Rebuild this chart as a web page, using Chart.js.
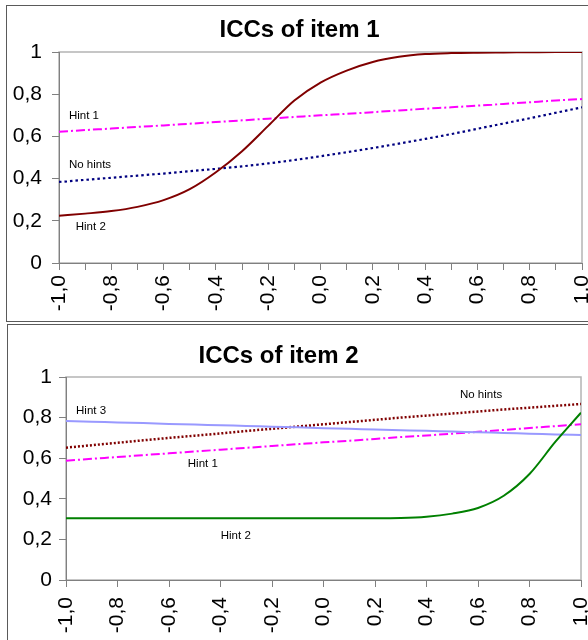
<!DOCTYPE html>
<html>
<head>
<meta charset="utf-8">
<script src="https://cdn.jsdelivr.net/npm/chart.js@4.4.1/dist/chart.umd.min.js"></script>
<style>
  html, body { margin: 0; padding: 0; background: #fff; overflow: hidden; width: 588px; height: 640px; }
  .panel { position: absolute; border: 1px solid #5a5a5a; background: #fff; }
  #panel1 { left: 6px; top: 5px; width: 600px; height: 315px; }
  #panel2 { left: 7px; top: 324px; width: 600px; height: 330px; }
  canvas { display: block; }
</style>
</head>
<body>
<div class="panel" id="panel1"><canvas id="item1" width="588" height="315"></canvas></div>
<div class="panel" id="panel2"><canvas id="item2" width="588" height="315"></canvas></div>
<script>
// ability values on the x axis
const theta = [-1.0, -0.9, -0.8, -0.7, -0.6, -0.5, -0.4, -0.3, -0.2, -0.1, 0.0,
               0.1, 0.2, 0.3, 0.4, 0.5, 0.6, 0.7, 0.8, 0.9, 1.0];

// item 1
const item1Hint1   = [0.622, 0.630, 0.637, 0.645, 0.652, 0.660, 0.668, 0.676, 0.684, 0.692, 0.700,
                      0.707, 0.715, 0.723, 0.731, 0.738, 0.746, 0.754, 0.762, 0.770, 0.777];
const item1NoHints = [0.384, 0.394, 0.404, 0.414, 0.424, 0.435, 0.446, 0.458, 0.472, 0.488, 0.506,
                      0.525, 0.545, 0.566, 0.588, 0.611, 0.636, 0.661, 0.686, 0.712, 0.738];
const item1Hint2   = [0.224, 0.234, 0.246, 0.266, 0.298, 0.350, 0.430, 0.530, 0.650, 0.770, 0.855,
                      0.912, 0.953, 0.977, 0.990, 0.995, 0.997, 0.998, 0.999, 1.000, 1.000];

// item 2
const item2Hint3   = [0.783, 0.780, 0.776, 0.773, 0.769, 0.766, 0.762, 0.759, 0.755, 0.752, 0.748,
                      0.745, 0.741, 0.738, 0.735, 0.731, 0.728, 0.724, 0.721, 0.717, 0.714];
const item2NoHints = [0.652, 0.664, 0.676, 0.688, 0.700, 0.711, 0.722, 0.734, 0.745, 0.756, 0.767,
                      0.778, 0.789, 0.800, 0.810, 0.820, 0.830, 0.840, 0.849, 0.858, 0.867];
const item2Hint1   = [0.588, 0.597, 0.606, 0.615, 0.624, 0.633, 0.642, 0.651, 0.660, 0.669, 0.678,
                      0.686, 0.695, 0.704, 0.712, 0.721, 0.730, 0.739, 0.749, 0.758, 0.767];
const item2Hint2   = [0.304, 0.304, 0.304, 0.304, 0.304, 0.304, 0.304, 0.304, 0.304, 0.304, 0.304,
                      0.304, 0.304, 0.305, 0.311, 0.327, 0.355, 0.415, 0.522, 0.680, 0.824];

// curve labels (text, theta, probability)
const item1LabelText = ["Hint 1", "No hints", "Hint 2"];
const item1LabelX    = [-0.962, -0.962, -0.936];
const item1LabelY    = [0.697, 0.467, 0.170];
const item2LabelText = ["Hint 3", "Hint 1", "Hint 2", "No hints"];
const item2LabelX    = [-0.961, -0.527, -0.399, 0.530];
const item2LabelY    = [0.835, 0.572, 0.219, 0.913];

const FONT = '"Liberation Sans", Arial, sans-serif';

function fmt(v) {
    if (Math.abs(v) < 1e-9) v = 0;
    return v.toFixed(1).replace(".", ",");
}

function pts(values) {
    return theta.map((t, i) => ({ x: t, y: values[i] }));
}

const panelTitle = {
    id: "panelTitle",
    afterDraw(chart, args, opts) {
        const ctx = chart.ctx;
        ctx.save();
        ctx.font = "bold 24px " + FONT;
        ctx.fillStyle = "#000";
        ctx.textAlign = "center";
        ctx.textBaseline = "middle";
        ctx.fillText(opts.text, opts.x, opts.y);
        ctx.restore();
    }
};

const curveLabels = {
    id: "curveLabels",
    afterDatasetsDraw(chart, args, opts) {
        const { ctx, scales } = chart;
        ctx.save();
        ctx.font = "11.5px " + FONT;
        ctx.fillStyle = "#000";
        ctx.textAlign = "left";
        ctx.textBaseline = "middle";
        opts.text.forEach((t, i) => {
            ctx.fillText(t, scales.x.getPixelForValue(opts.xs[i]), scales.y.getPixelForValue(opts.ys[i]));
        });
        ctx.restore();
    }
};

// light grey frame round the plot area, axes are drawn over it
const plotFrame = {
    id: "plotFrame",
    beforeDraw(chart) {
        const { ctx, chartArea: a } = chart;
        ctx.save();
        ctx.strokeStyle = "#b4b4b4";
        ctx.lineWidth = 1.5;
        ctx.strokeRect(a.left, a.top, a.right - a.left, a.bottom - a.top);
        ctx.restore();
    }
};

function makeChart(id, datasets, o) {
    new Chart(document.getElementById(id), {
        type: "line",
        data: { datasets },
        plugins: [plotFrame, panelTitle, curveLabels],
        options: {
            responsive: false,
            animation: false,
            devicePixelRatio: 1,
            layout: { padding: { top: o.top, right: o.right, left: 0, bottom: 0 } },
            elements: { point: { radius: 0 }, line: { cubicInterpolationMode: "monotone" } },
            plugins: {
                legend: { display: false },
                tooltip: { enabled: false },
                panelTitle: o.title,
                curveLabels: o.labels
            },
            scales: {
                x: {
                    type: "linear",
                    min: -1,
                    max: 1,
                    afterFit(s) { s.height = o.xHeight; s.paddingLeft = 0; s.paddingRight = 0; },
                    grid: { drawOnChartArea: false, tickLength: 7, color: "#808080" },
                    border: { color: "#808080" },
                    ticks: {
                        stepSize: o.xStep,
                        autoSkip: false,
                        minRotation: 90,
                        maxRotation: 90,
                        padding: o.xPad,
                        color: "#000",
                        font: { family: FONT, size: 21 },
                        callback: v => (Math.round(v * 10) % 2 === 0 ? fmt(v) : "")
                    }
                },
                y: {
                    min: 0,
                    max: 1,
                    afterFit(s) { s.width = o.yWidth; s.paddingTop = 0; s.paddingBottom = 0; },
                    grid: { drawOnChartArea: false, tickLength: 7, color: "#808080" },
                    border: { color: "#808080" },
                    ticks: {
                        stepSize: 0.2,
                        padding: o.yPad,
                        color: "#000",
                        font: { family: FONT, size: 21 },
                        callback: v => (Math.abs(v) < 1e-9 ? "0" : Math.abs(v - 1) < 1e-9 ? "1" : fmt(v))
                    }
                }
            }
        }
    });
}

makeChart("item1", [
    { data: pts(item1Hint2), borderColor: "#800000", borderWidth: 2 },
    { data: pts(item1NoHints), borderColor: "#000080", borderWidth: 2.2, borderDash: [2.5, 3] },
    { data: pts(item1Hint1), borderColor: "#ff00ff", borderWidth: 2, borderDash: [9, 3, 2, 3] }
], {
    top: 46, right: 13, xHeight: 58, yWidth: 52, xStep: 0.1, xPad: 5, yPad: 10,
    title: { text: "ICCs of item 1", x: 292.5, y: 24.5 },
    labels: { text: item1LabelText, xs: item1LabelX, ys: item1LabelY }
});

makeChart("item2", [
    { data: pts(item2Hint2), borderColor: "#008000", borderWidth: 2 },
    { data: pts(item2Hint3), borderColor: "#9999ff", borderWidth: 2 },
    { data: pts(item2NoHints), borderColor: "#800000", borderWidth: 2.5, borderDash: [2, 2] },
    { data: pts(item2Hint1), borderColor: "#ff00ff", borderWidth: 2, borderDash: [9, 3, 2, 3] }
], {
    top: 52, right: 15, xHeight: 60, yWidth: 58, xStep: 0.2, xPad: 10, yPad: 7,
    title: { text: "ICCs of item 2", x: 270.5, y: 31 },
    labels: { text: item2LabelText, xs: item2LabelX, ys: item2LabelY }
});
</script>
</body>
</html>
